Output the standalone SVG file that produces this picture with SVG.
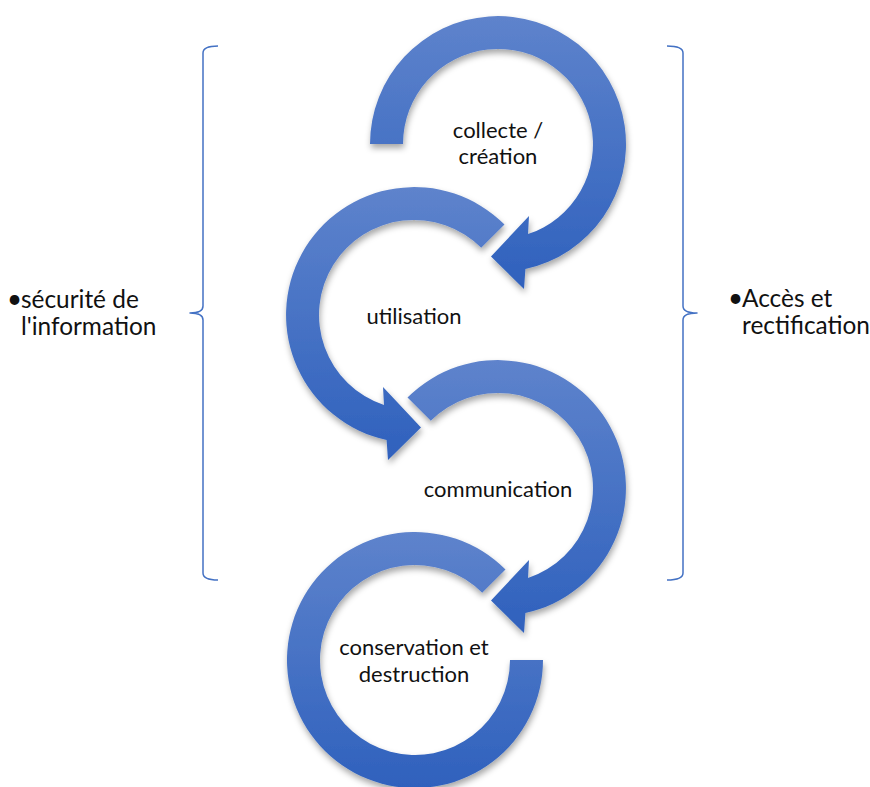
<svg xmlns="http://www.w3.org/2000/svg" width="870" height="787" viewBox="0 0 870 787">
  <style>
    .ring { fill: url(#ringFill); filter: url(#softShadow); }
    .label { font-family: Lato, "Liberation Sans", sans-serif; font-size: 22px; fill: #111; text-anchor: middle; }
    .side { font-family: Lato, "Liberation Sans", sans-serif; font-size: 24.4px; fill: #111; }
    .bullet { font-size: 26px; }
    .brace { fill: none; stroke: #4472c4; stroke-width: 1.5; stroke-linejoin: round; }
  </style>
  <defs>
    <linearGradient id="ringFill" x1="0" y1="0" x2="0" y2="1">
      <stop offset="0" stop-color="#5e83cc"/>
      <stop offset="1" stop-color="#2f61bd"/>
    </linearGradient>
    <filter id="softShadow" x="-20%" y="-20%" width="140%" height="140%">
      <feDropShadow dx="1" dy="4" stdDeviation="3" flood-color="#000" flood-opacity="0.35"/>
    </filter>
  </defs>

  <!-- side braces -->
  <g id="braces">
    <path class="brace" d="M 218 46 Q 203 46 203 53 L 203 306 Q 203 313 190 313 Q 203 313 203 320 L 203 573 Q 203 580 218 580"/>
    <path class="brace" d="M 667 46 Q 683 46 683 53 L 683 306 Q 683 313 697 313 Q 683 313 683 320 L 683 573 Q 683 580 667 580"/>
  </g>

  <!-- circular arrows -->
  <g id="connectors">
    <path id="arrow-collecte" class="ring" d="M 370 144 A 128 128 0 1 1 525.4 269.1 L 524 289 L 491 256.5 L 529 216 L 528 234.1 A 95 95 0 1 0 403 144 Z"/>
    <path id="arrow-utilisation" class="ring" d="M 504.5 224.5 A 128 128 0 1 0 386.6 440.1 L 388 460 L 421 427.5 L 383 387 L 384 405.1 A 95 95 0 1 1 481.2 247.8 Z"/>
    <path id="arrow-communication" class="ring" d="M 407.5 397.5 A 128 128 0 1 1 525.4 613.1 L 524 633 L 491 600.5 L 529 560 L 528 578.1 A 95 95 0 1 0 430.8 420.8 Z"/>
    <path id="arrow-conservation" class="ring" d="M 505.5 569.5 A 128 128 0 1 0 543 660 L 510 660 A 95 95 0 1 1 482.2 592.8 Z"/>
  </g>

  <!-- step labels -->
  <g id="node-collecte">
    <text class="label" x="498" y="138">collecte /</text>
    <text class="label" x="498" y="164">création</text>
  </g>
  <g id="node-utilisation">
    <text class="label" x="414" y="324">utilisation</text>
  </g>
  <g id="node-communication">
    <text class="label" x="498" y="497">communication</text>
  </g>
  <g id="node-conservation">
    <text class="label" x="414" y="655">conservation et</text>
    <text class="label" x="414" y="682">destruction</text>
  </g>

  <!-- side notes -->
  <g id="note-securite">
    <text class="side" y="308"><tspan class="bullet" x="7">•</tspan><tspan x="21">sécurité de</tspan></text>
    <text class="side" x="21" y="335">l'information</text>
  </g>
  <g id="note-acces">
    <text class="side" y="307"><tspan class="bullet" x="728">•</tspan><tspan x="742">Accès et</tspan></text>
    <text class="side" x="742" y="334">rectification</text>
  </g>
</svg>
